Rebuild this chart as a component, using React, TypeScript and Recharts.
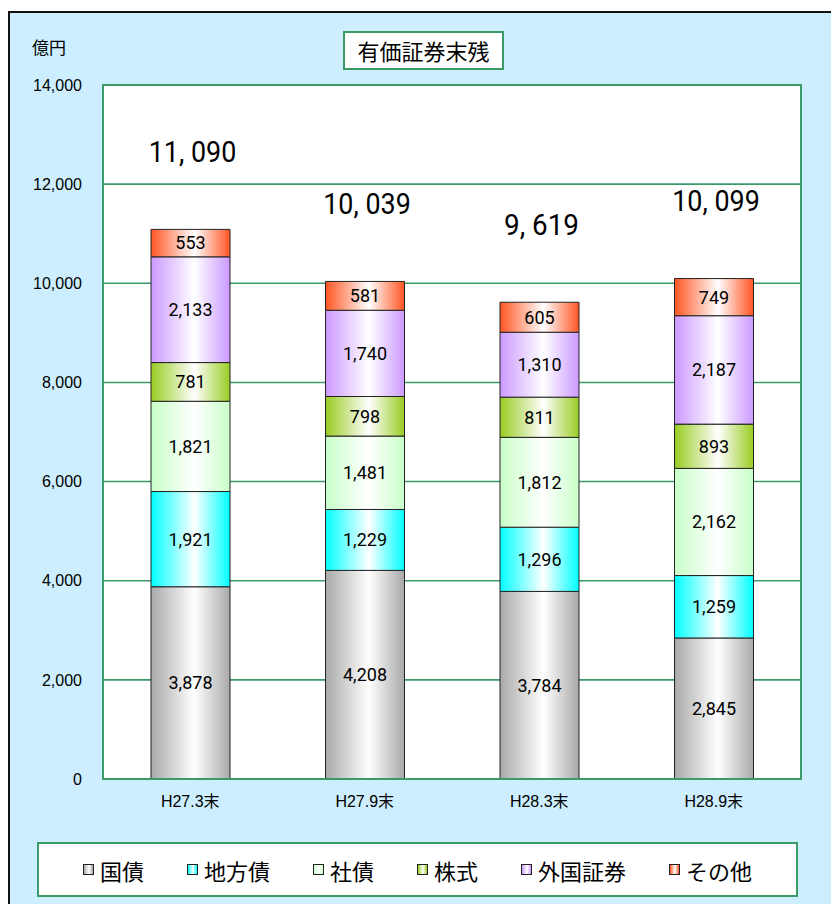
import { Bar, BarChart, CartesianGrid, LabelList, ReferenceArea, XAxis, YAxis } from 'recharts';

const categories = ['H27.3末', 'H27.9末', 'H28.3末', 'H28.9末'];
const kokusai = [3878, 4208, 3784, 2845];
const chihousai = [1921, 1229, 1296, 1259];
const shasai = [1821, 1481, 1812, 2162];
const kabushiki = [781, 798, 811, 893];
const gaikoku = [2133, 1740, 1310, 2187];
const sonota = [553, 581, 605, 749];
const totals = [11090, 10039, 9619, 10099];
const yTicks = [0, 2000, 4000, 6000, 8000, 10000, 12000, 14000];

const series = [
  { key: 'kokusai', name: '国債', values: kokusai, color: '#a9a9a9' },
  { key: 'chihousai', name: '地方債', values: chihousai, color: '#00ffff' },
  { key: 'shasai', name: '社債', values: shasai, color: '#c8ffc8' },
  { key: 'kabushiki', name: '株式', values: kabushiki, color: '#99cc22' },
  { key: 'gaikoku', name: '外国証券', values: gaikoku, color: '#cc99ff' },
  { key: 'sonota', name: 'その他', values: sonota, color: '#ff5522' },
];

const data = categories.map((label, i) => {
  const row: Record<string, string | number> = { label, total: totals[i] };
  series.forEach((s) => (row[s.key] = s.values[i]));
  return row;
});

const GREEN = '#3a9a68';
const JP = '"Noto Sans CJK JP", sans-serif';
const fmt = (v: number) => v.toLocaleString('en-US');

function TotalLabel(props: any) {
  const { x, y, width, index } = props;
  const text = fmt(totals[index]).replace(',', ', ');
  return (
    <text
      x={x + width / 2 + 2}
      y={y - 78}
      textAnchor="middle"
      dominantBaseline="central"
      fontSize={30}
      fontFamily="Roboto, sans-serif"
      fill="#000"
      textLength={text.length * 12.5}
      lengthAdjust="spacingAndGlyphs"
    >
      {text}
    </text>
  );
}

export default function App() {
  return (
    <div
      style={{
        position: 'absolute',
        left: 0,
        top: 0,
        width: 831,
        height: 904,
        overflow: 'hidden',
        background: '#fff',
      }}
    >
      <div
        style={{
          position: 'absolute',
          left: 8,
          top: 11,
          width: 840,
          height: 900,
          background: '#cceeff',
          borderLeft: '2px solid #111',
          borderTop: '2px solid #111',
        }}
      />
      <div
        style={{
          position: 'absolute',
          left: 32,
          top: 34,
          fontSize: 17,
          fontFamily: JP,
          color: '#000',
        }}
      >
        億円
      </div>
      <div
        style={{
          position: 'absolute',
          left: 343,
          top: 31,
          width: 157,
          height: 35,
          border: `2px solid ${GREEN}`,
          background: '#fff',
          fontFamily: JP,
          fontSize: 22,
          lineHeight: '35px',
          textAlign: 'center',
          color: '#000',
        }}
      >
        有価証券末残
      </div>
      <BarChart
        width={831}
        height={904}
        data={data}
        barSize={79}
        margin={{ top: 85, right: 30, left: 23, bottom: 85 }}
        style={{ position: 'absolute', left: 0, top: 0 }}
      >
        <defs>
          {series.map((s) => (
            <linearGradient key={s.key} id={`g-${s.key}`} x1="0" y1="0" x2="1" y2="0">
              <stop offset="0" stopColor={s.color} />
              <stop offset="0.55" stopColor="#ffffff" />
              <stop offset="1" stopColor={s.color} />
            </linearGradient>
          ))}
        </defs>
        <CartesianGrid
          fill="#fff"
          stroke={GREEN}
          strokeWidth={1.6}
          vertical={false}
        />
        <XAxis
          dataKey="label"
          height={40}
          tickSize={0}
          tickMargin={17}
          axisLine={{ stroke: GREEN, strokeWidth: 2 }}
          tick={{ fontSize: 16, fill: '#000', fontFamily: 'Arial, "Liberation Sans", "Noto Sans CJK JP", sans-serif' }}
        />
        <YAxis
          width={80}
          domain={[0, 14000]}
          ticks={yTicks}
          tickFormatter={fmt}
          tickSize={0}
          tickMargin={21}
          axisLine={{ stroke: GREEN, strokeWidth: 2 }}
          tick={{ fontSize: 16, fill: '#000', fontFamily: 'Arial, "Liberation Sans", sans-serif' }}
        />
        <ReferenceArea
          y1={0}
          y2={14000}
          fill="none"
          fillOpacity={0}
          stroke={GREEN}
          strokeWidth={2}
          ifOverflow="visible"
        />
        {series.map((s, i) => (
          <Bar
            key={s.key}
            dataKey={s.key}
            name={s.name}
            stackId="a"
            fill={`url(#g-${s.key})`}
            stroke="#222"
            strokeWidth={1}
            isAnimationActive={false}
          >
            <LabelList
              dataKey={s.key}
              position="center"
              formatter={(v: any) => fmt(Number(v))}
              fill="#000"
              fontSize={18}
              fontFamily="Roboto, sans-serif"
            />
            {i === series.length - 1 && <LabelList dataKey="total" content={TotalLabel} />}
          </Bar>
        ))}
      </BarChart>
      <div
        style={{
          position: 'absolute',
          left: 37,
          top: 842,
          width: 757,
          height: 51,
          border: `2px solid ${GREEN}`,
          background: '#fff',
          display: 'flex',
          alignItems: 'center',
          justifyContent: 'center',
          gap: 43,
          fontFamily: JP,
          fontSize: 22,
          color: '#000',
        }}
      >
        {series.map((s) => (
          <div key={s.key} style={{ display: 'flex', alignItems: 'center' }}>
            <span
              style={{
                display: 'inline-block',
                width: 9,
                height: 9,
                border: '1px solid #222',
                marginRight: 6,
                background: `linear-gradient(to right, ${s.color}, #fff 55%, ${s.color})`,
              }}
            />
            <span>{s.name}</span>
          </div>
        ))}
      </div>
    </div>
  );
}
